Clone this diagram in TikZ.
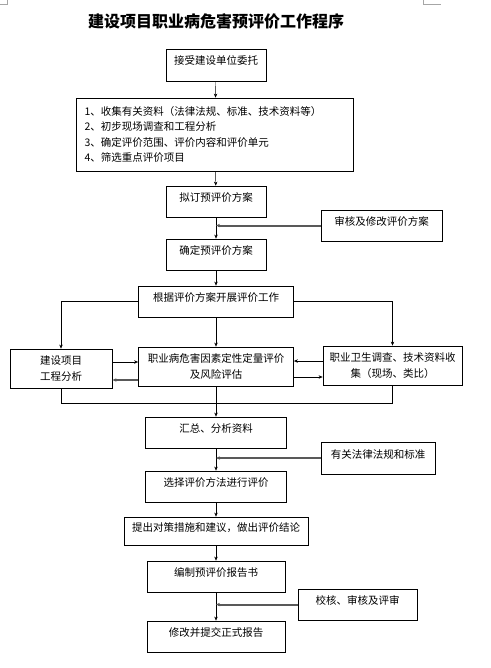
\documentclass[tikz,border=0pt]{standalone}
\usepackage{fontspec}
\setmainfont{Noto Sans CJK SC}
\usetikzlibrary{arrows.meta}
\begin{document}
\begin{tikzpicture}[x=1pt,y=-1pt,>={Stealth[length=4pt,width=3.4pt]},
  box/.style={draw,line width=0.8pt,inner sep=0pt,align=center,font=\fontsize{10.5}{15.6}\selectfont},
  onebox/.style={box,text height=5pt,text depth=5pt},
  gline/.style={draw=black!65,line width=2pt}]
\useasboundingbox (0,0) rectangle (490,668);

\draw[black!35,line width=0.6pt] (7,0) -- (7,4) -- (0,4);
\draw[black!35,line width=0.6pt] (423,0) -- (423,4) -- (441,4);
\node[font=\fontsize{16}{16}\selectfont\bfseries] (t) at (216,21) {建设项目职业病危害预评价工作程序};

\node[onebox,minimum width=100,minimum height=32] (v1) at (216,65) {接受建设单位委托};
\node[box,minimum width=277,minimum height=73,text width=261,align=left] (v2) at (215,134.5) {1、收集有关资料（法律法规、标准、技术资料等）\\2、初步现场调查和工程分析\\3、确定评价范围、评价内容和评价单元\\4、筛选重点评价项目};
\node[onebox,minimum width=100,minimum height=31] (v3) at (216,201.5) {拟订预评价方案};
\node[onebox,minimum width=121,minimum height=31] (v5) at (381.5,225.5) {审核及修改评价方案};
\node[onebox,minimum width=100,minimum height=31] (v4) at (216,254.5) {确定预评价方案};
\node[onebox,minimum width=155,minimum height=31] (v6) at (216,301.5) {根据评价方案开展评价工作};
\node[box,minimum width=102,minimum height=39] (v7) at (61,368.5) {建设项目\\工程分析};
\node[box,minimum width=155,minimum height=39] (v8) at (216,366.5) {职业病危害因素定性定量评价\\及风险评估};
\node[box,minimum width=139,minimum height=39] (v9) at (392.5,365.5) {职业卫生调查、技术资料收\\集（现场、类比）};
\node[onebox,minimum width=141,minimum height=31] (v10) at (216,432.5) {汇总、分析资料};
\node[onebox,minimum width=114,minimum height=32] (v11) at (378,458) {有关法律法规和标准};
\node[onebox,minimum width=141,minimum height=31] (v12) at (216,486.5) {选择评价方法进行评价};
\node[onebox,minimum width=184,minimum height=28] (v13) at (216,531) {提出对策措施和建议，做出评价结论};
\node[onebox,minimum width=138,minimum height=31] (v14) at (216,576.5) {编制预评价报告书};
\node[onebox,minimum width=119,minimum height=31] (v15) at (357.5,604.5) {校核、审核及评审};
\node[onebox,minimum width=138,minimum height=31] (v16) at (216,636.5) {修改并提交正式报告};

\draw (v1) edge[->] (v2);
\draw (v2) edge[->] (v3);
\draw (v3) edge[->] (v4);
\draw[gline,->] (v5.west) -- (v5.west -| v3.south);
\draw (v4) edge[->] (v6);
\draw[->] (v6.west) -| (v7.north);
\draw[->] (v6.east) -| (v9.north);
\draw (v6) edge[->] (v8);
\draw (v7.east |- 0,362) edge[->] (v8.west |- 0,362);
\draw[gline,->] (v8.west |- 0,380) -- (v7.east |- 0,380);
\draw (v9.west |- 0,361) edge[->] (v8.east |- 0,361);
\draw (v8.east |- 0,377) edge[->] (v9.west |- 0,377);
\draw (v7.south) -- (v7.south |- 0,403) -| (v9.south);
\draw (v8) edge[->] (v10);
\draw (v10) edge[->] (v12);
\draw[gline,->] (v11.west) -- (v11.west -| v10.south);
\draw (v12) edge[->] (v13);
\draw (v13) edge[->] (v14);
\draw (v14) edge[->] (v16);
\draw[gline,->] (v15.west) -- (v15.west -| v14.south);
\end{tikzpicture}
\end{document}
